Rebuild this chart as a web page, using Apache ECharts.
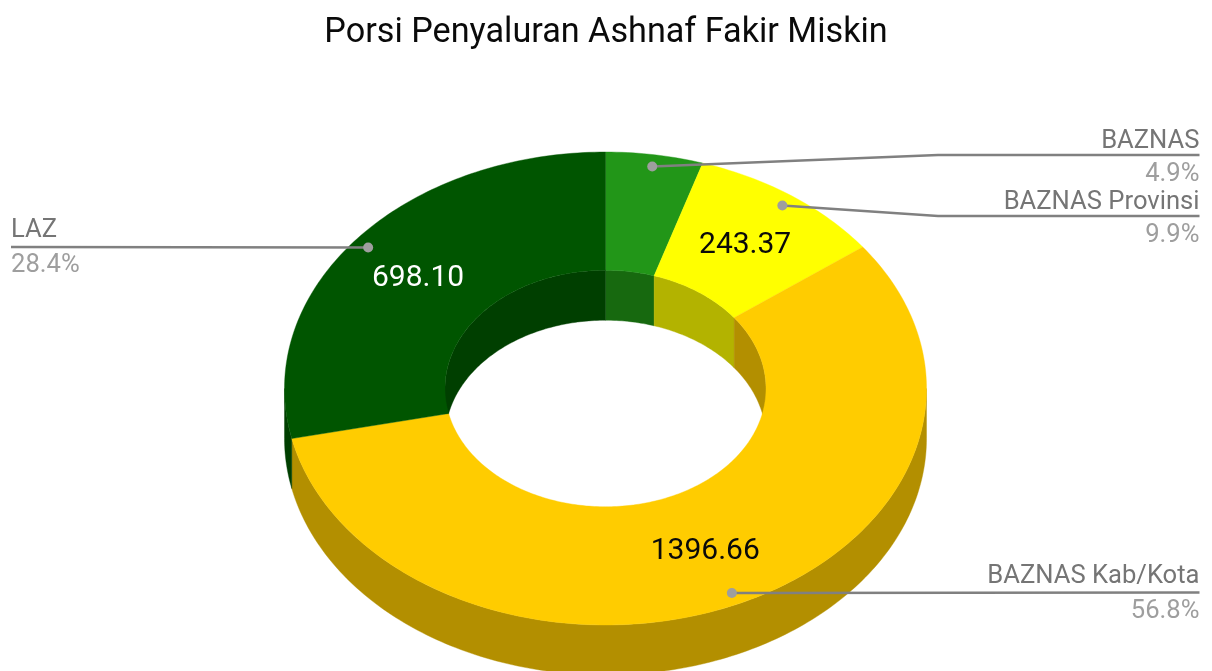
<!DOCTYPE html>
<html>
<head>
<meta charset="utf-8">
<script src="https://cdn.jsdelivr.net/npm/echarts@6/dist/echarts.min.js"></script>
<style>html,body{margin:0;padding:0;background:#fff}#c{width:1212px;height:671px}</style>
</head>
<body>
<div id="c"></div>
<script>
var categories = ['BAZNAS', 'BAZNAS Provinsi', 'BAZNAS Kab/Kota', 'LAZ'];
var values = [120.4, 243.37, 1396.66, 698.10];
var showValue = [false, true, true, true];
var chartTitle = 'Porsi Penyaluran Ashnaf Fakir Miskin';

var topColors = ['#229618', '#ffff00', '#ffcc00', '#005500'];
var sideColors = ['#17690f', '#b3b300', '#b38f00', '#003f00'];
var valueColors = ['#0a0a0a', '#0a0a0a', '#0a0a0a', '#ffffff'];

var FONT = 'Roboto, sans-serif';
var CX = 605.5, CY = 388.5, RX = 321, RY = 236.5, HOLE = 0.5, DEPTH = 50;
var LEADER = '#808080', NAME_C = '#757575', PCT_C = '#9e9e9e';
var leaderY = [155, 216, 592.5, 247];
var nameShift = [3, 3, 0, 0];
var pctShift = [3, 3, 2, 2];
var ELBOW_X = 938, RIGHT_X = 1199.5, LEFT_X = 11;

var total = values.reduce(function (a, b) { return a + b; }, 0);
var spans = [], acc = 0;
values.forEach(function (v) {
  var a = acc / total * 360; acc += v;
  spans.push([a, acc / total * 360]);
});
function pt(deg, rho, dy) {
  var t = deg * Math.PI / 180;
  return [CX + RX * rho * Math.sin(t), CY - RY * rho * Math.cos(t) + (dy || 0)];
}
function arc(a, b, rho, dy) {
  var n = Math.max(2, Math.ceil(Math.abs(b - a))), out = [];
  for (var i = 0; i <= n; i++) out.push(pt(a + (b - a) * i / n, rho, dy));
  return out;
}
function band(a, b, rho1, dy1, rho2, dy2) {
  return arc(a, b, rho1, dy1).concat(arc(b, a, rho2, dy2));
}
function poly(points, fill) {
  return { type: 'polygon', shape: { points: points }, style: { fill: fill, stroke: fill, lineWidth: 0.4 } };
}
function overlap(s, lo, hi) {
  var a = Math.max(s[0], lo), b = Math.min(s[1], hi);
  return b > a ? [a, b] : null;
}
var rows = values.map(function (v, i) { return { value: v, name: categories[i] }; });

function renderWalls(params) {
  var i = params.dataIndex, kids = [];
  [[0, 90], [270, 360]].forEach(function (r) {
    var o = overlap(spans[i], r[0], r[1]);
    if (o) kids.push(poly(band(o[0], o[1], HOLE, 0, HOLE, DEPTH), sideColors[i]));
  });
  var f = overlap(spans[i], 90, 270);
  if (f) kids.push(poly(band(f[0], f[1], 1, 0, 1, DEPTH), sideColors[i]));
  return { type: 'group', children: kids };
}
function renderTop(params) {
  var i = params.dataIndex;
  return { type: 'group', children: [poly(band(spans[i][0], spans[i][1], 1, 0, HOLE, 0), topColors[i])] };
}
function renderLabels(params, api) {
  var i = params.dataIndex, s = spans[i], mid = (s[0] + s[1]) / 2, kids = [];
  var pct = (api.value(0) / total * 100).toFixed(1) + '%';
  if (showValue[i]) {
    var c = pt(mid, 0.75, 1.5);
    kids.push({ type: 'text', z2: 5, style: { text: api.value(0).toFixed(2), x: c[0], y: c[1], align: 'center', verticalAlign: 'middle', fill: valueColors[i], font: '400 30px ' + FONT } });
  }
  var d = pt(mid, 0.95), right = mid < 180, endX = right ? RIGHT_X : LEFT_X, y = leaderY[i];
  var pts = Math.abs(d[1] - y) > 2 ? [d, [ELBOW_X, y], [endX, y]] : [d, [endX, y]];
  kids.push({ type: 'polyline', shape: { points: pts }, style: { fill: null, stroke: LEADER, lineWidth: 2.4 } });
  kids.push({ type: 'circle', shape: { cx: d[0], cy: d[1], r: 5 }, style: { fill: PCT_C } });
  var align = right ? 'right' : 'left';
  kids.push({ type: 'text', style: { text: categories[i], x: endX, y: y - 3 + nameShift[i], align: align, verticalAlign: 'bottom', fill: NAME_C, font: '400 25.6px ' + FONT } });
  kids.push({ type: 'text', style: { text: pct, x: endX, y: y + 4 + pctShift[i], align: align, verticalAlign: 'top', fill: PCT_C, font: '400 25.6px ' + FONT } });
  return { type: 'group', children: kids };
}
function layer(fn, z) {
  return { type: 'custom', coordinateSystem: 'none', data: rows, renderItem: fn, z: z, silent: true, animation: false, clip: false };
}
var chart = echarts.init(document.getElementById('c'), null, { renderer: 'canvas' });
chart.setOption({
  animation: false,
  backgroundColor: '#ffffff',
  title: { text: chartTitle, left: 'center', top: 11, textStyle: { fontFamily: FONT, fontWeight: 400, fontSize: 34.2, color: '#0a0a0a' } },
  series: [layer(renderWalls, 1), layer(renderTop, 2), layer(renderLabels, 3)]
});
</script>
</body>
</html>
